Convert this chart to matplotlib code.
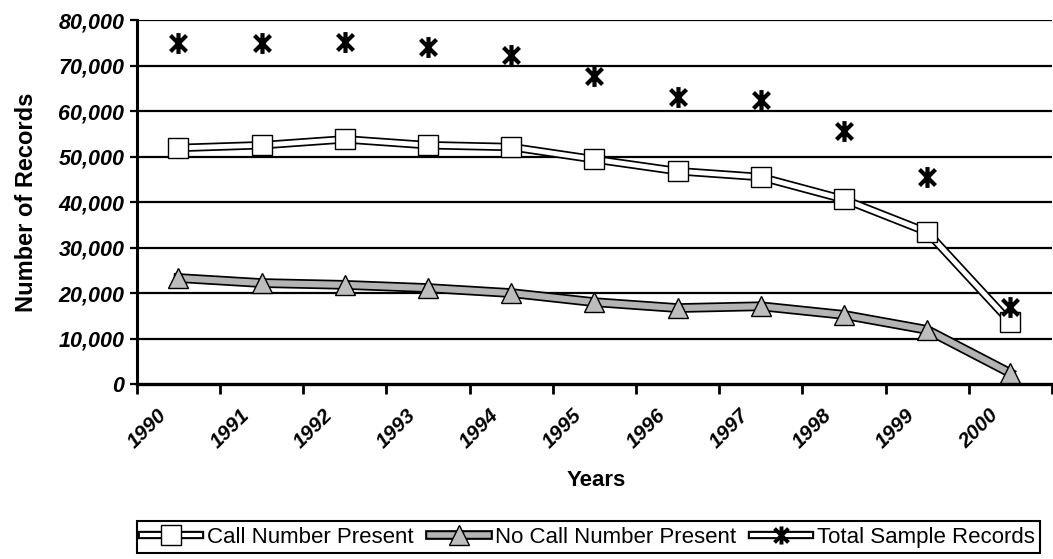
import numpy as np
import matplotlib.pyplot as plt
import matplotlib.patheffects as pe
import matplotlib.transforms as mtransforms
from matplotlib.path import Path
from matplotlib.lines import Line2D
from matplotlib.legend_handler import HandlerTuple

years = ['1990', '1991', '1992', '1993', '1994', '1995', '1996', '1997', '1998', '1999', '2000']
call_present = [51900, 52500, 53800, 52500, 52100, 49400, 46800, 45500, 40600, 33400, 13600]
no_call = [23300, 22200, 21800, 21100, 20000, 18000, 16700, 17100, 15200, 11900, 2400]
total = [74900, 74900, 75200, 74000, 72400, 67800, 63100, 62400, 55600, 45500, 16900]
y_ticks = [0, 10000, 20000, 30000, 40000, 50000, 60000, 70000, 80000]
series_names = ['Call Number Present', 'No Call Number Present', 'Total Sample Records']

plt.rcParams['font.family'] = ['Liberation Sans', 'DejaVu Sans']

# asterisk marker: an X with a vertical bar through it
star = Path([(-1, -1), (1, 1), (-1, 1), (1, -1), (0, -1.3), (0, 1.3)],
            [Path.MOVETO, Path.LINETO, Path.MOVETO, Path.LINETO, Path.MOVETO, Path.LINETO])

white_pe = [pe.Stroke(linewidth=6, foreground='black'), pe.Normal()]
grey_pe = [pe.Stroke(linewidth=7, foreground='black'), pe.Normal()]

fig = plt.figure(figsize=(10.53, 5.59), dpi=100)
ax = fig.add_axes([0.130, 0.313, 0.869, 0.651])
x = np.arange(len(years))

# horizontal grid
for v in y_ticks[1:]:
    ax.axhline(v, color='black', lw=1.6, zorder=1)

# call number present: white double line, white squares
ax.plot(x, call_present, color='white', lw=3.5, zorder=3, path_effects=white_pe)
ax.plot(x, call_present, linestyle='none', marker='s', markersize=14,
        markerfacecolor='white', markeredgecolor='black', markeredgewidth=1.0, zorder=4)

# no call number present: grey line, grey triangles
ax.plot(x, no_call, color='#b4b4b4', lw=4.5, zorder=3, path_effects=grey_pe)
ax.plot(x, no_call, linestyle='none', marker='^', markersize=15,
        markerfacecolor='#bdbdbd', markeredgecolor='black', markeredgewidth=1.0, zorder=4)

# total sample records: markers only
ax.plot(x, total, linestyle='none', marker=star, markersize=15,
        markeredgecolor='black', markeredgewidth=3.0, zorder=5)

ax.set_xlim(-0.5, len(years) - 0.5)
ax.set_ylim(0, 80000)
ax.set_yticks(y_ticks)
ax.set_yticklabels(['{:,}'.format(v) for v in y_ticks], fontsize=15.5,
                   fontweight='bold', fontstyle='italic')
ax.tick_params(axis='y', length=5, width=1.6, pad=4)

ax.set_xticks(np.arange(len(years) + 1) - 0.5, minor=True)
ax.set_xticks(x)
ax.set_xticklabels(years, rotation=45, ha='right', va='top', rotation_mode='anchor',
                   fontsize=15, fontweight='bold', fontstyle='italic')
ax.tick_params(axis='x', which='major', length=0, pad=10)
ax.tick_params(axis='x', which='minor', length=7, width=2)
shift = mtransforms.ScaledTranslation(-0.22, -0.08, fig.dpi_scale_trans)
for lbl in ax.get_xticklabels():
    lbl.set_transform(lbl.get_transform() + shift)

for side in ['top', 'right']:
    ax.spines[side].set_visible(False)
ax.spines['left'].set_linewidth(2.2)
ax.spines['bottom'].set_linewidth(2.4)

ax.set_ylabel('Number of Records', fontsize=17, fontweight='bold', labelpad=15)
fig.text(0.566, 1 - 481 / 559, 'Years', fontsize=16, fontweight='bold',
         ha='center', va='center')

# legend: double line with the marker in the middle
h_call = (Line2D([], [], color='white', lw=3, path_effects=white_pe),
          Line2D([], [], linestyle='none', marker='s', markersize=14, markerfacecolor='white',
                 markeredgecolor='black', markeredgewidth=1.0))
h_no = (Line2D([], [], color='#b4b4b4', lw=4, path_effects=grey_pe),
        Line2D([], [], linestyle='none', marker='^', markersize=15, markerfacecolor='#bdbdbd',
               markeredgecolor='black', markeredgewidth=1.0))
h_tot = (Line2D([], [], color='white', lw=3, path_effects=white_pe),
         Line2D([], [], linestyle='none', marker=star, markersize=13,
                markeredgecolor='black', markeredgewidth=2.8))

leg = fig.legend([h_call, h_no, h_tot], series_names,
                 handler_map={tuple: HandlerTuple(ndivide=1, pad=0)},
                 loc='lower left', bbox_to_anchor=(0.130, 0.010),
                 ncol=3, fancybox=False, edgecolor='black', framealpha=1,
                 borderaxespad=0, borderpad=0.25, handlelength=2.6, handletextpad=0.3,
                 columnspacing=0.75, prop={'size': 16})
leg.get_frame().set_linewidth(1.5)

fig.savefig('out.png', dpi=100)
